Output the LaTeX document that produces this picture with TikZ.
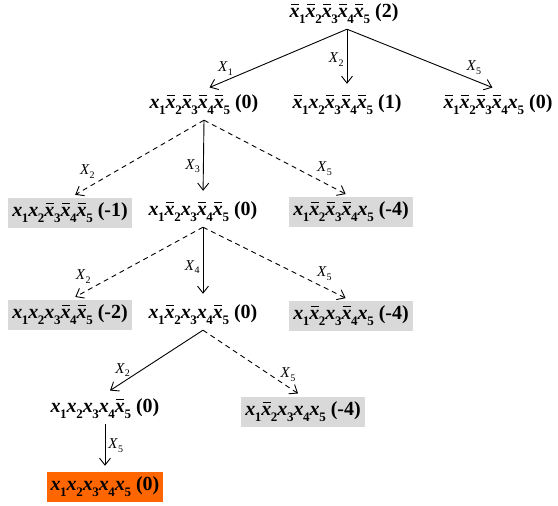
\documentclass[tikz,border=0pt]{standalone}
\usepackage{fontspec}
\setmainfont{Liberation Serif}
\usetikzlibrary{arrows.meta}
\definecolor{boxgray}{HTML}{D9D9D9}
\definecolor{goalorange}{HTML}{FF6600}
% literal x_i and its negation \bar{x}_i
\newcommand{\vp}[1]{\textit{x}\kern-0.02em\raisebox{-0.3em}{\fontsize{13}{13}\selectfont #1}}
\newcommand{\vn}[1]{\rlap{\kern0.06em\rule[0.62em]{0.4em}{0.055em}}\vp{#1}}
\newcommand{\cst}[1]{\ (#1)}
% branching variable label X_i
\newcommand{\lbl}[1]{\textit{X}\raisebox{-0.25em}{\fontsize{10}{10}\selectfont #1}}
\begin{document}
\begin{tikzpicture}[x=1pt,y=-1pt,
  term/.style={font=\fontsize{20}{24}\selectfont\bfseries, inner xsep=4pt, inner ysep=0pt, minimum height=30pt},
  pruned/.style={term, fill=boxgray},
  best/.style={term, fill=goalorange},
  edge/.style={draw, line width=0.9pt, shorten >=6pt, -{Straight Barb[length=7pt,width=11pt]}},
  cut/.style={edge, dash pattern=on 5pt off 4pt},
  lab/.style={font=\fontsize{15}{18}\selectfont, inner sep=1pt}]
\useasboundingbox (0,0) rectangle (558,506);

% tree nodes
\node[term] (root) at (344,14) {\vn1\vn2\vn3\vn4\vn5\cst{2}};
\node[term] (a) at (204,105) {\vp1\vn2\vn3\vn4\vn5\cst{0}};
\node[term] (b) at (347,105) {\vn1\vp2\vn3\vn4\vn5\cst{1}};
\node[term] (c) at (498,105) {\vn1\vn2\vn3\vn4\vp5\cst{0}};
\node[pruned] (d) at (70,213) {\vp1\vp2\vn3\vn4\vn5\cst{-1}};
\node[term] (e) at (203,212) {\vp1\vn2\vp3\vn4\vn5\cst{0}};
\node[pruned] (f) at (351,212) {\vp1\vn2\vn3\vn4\vp5\cst{-4}};
\node[pruned] (g) at (70,315) {\vp1\vp2\vp3\vn4\vn5\cst{-2}};
\node[term] (h) at (203,315) {\vp1\vn2\vp3\vp4\vn5\cst{0}};
\node[pruned] (i) at (351,316) {\vp1\vn2\vp3\vn4\vp5\cst{-4}};
\node[term] (j) at (105,409) {\vp1\vp2\vp3\vp4\vn5\cst{0}};
\node[pruned] (k) at (303,412) {\vp1\vn2\vp3\vp4\vp5\cst{-4}};
\node[best] (l) at (105,487) {\vp1\vp2\vp3\vp4\vp5\cst{0}};

% branches
\draw[edge] ([xshift=3pt]root.south) -- node[lab, pos=0.85, above=4pt] (l1) {\lbl1} (a.north);
\draw[edge] ([xshift=3pt]root.south) -- node[lab, pos=0.5, left=2pt] (l2) {\lbl2} (b.north);
\draw[edge] ([xshift=3pt]root.south) -- node[lab, pos=0.84, above=4pt] (l3) {\lbl5} (c.north);

\draw[cut] (a.south) -- node[lab, pos=0.87, above=8pt] (l4) {\lbl2} (d.north);
\draw[edge] (a.south) -- node[lab, pos=0.6, left=2pt] (l5) {\lbl3} (e.north);
\draw[cut] (a.south) -- node[lab, pos=0.82, above=6pt] (l6) {\lbl5} (f.north);

\draw[cut] (e.south) -- node[lab, pos=0.9, above=8pt] (l7) {\lbl2} (g.north);
\draw[edge] (e.south) -- node[lab, pos=0.55, left=2pt] (l8) {\lbl4} (h.north);
\draw[cut] (e.south) -- node[lab, pos=0.82, above=6pt] (l9) {\lbl5} (i.north);

\draw[edge] (h.south) -- node[lab, pos=0.82, above=4pt] (l10) {\lbl2} (j.north);
\draw[cut] (h.south) -- node[lab, pos=0.85, above=4pt] (l11) {\lbl5} (k.north);

\draw[edge] (j.south) -- node[lab, pos=0.45, right=2pt] (l12) {\lbl5} (l.north);
\end{tikzpicture}
\end{document}
